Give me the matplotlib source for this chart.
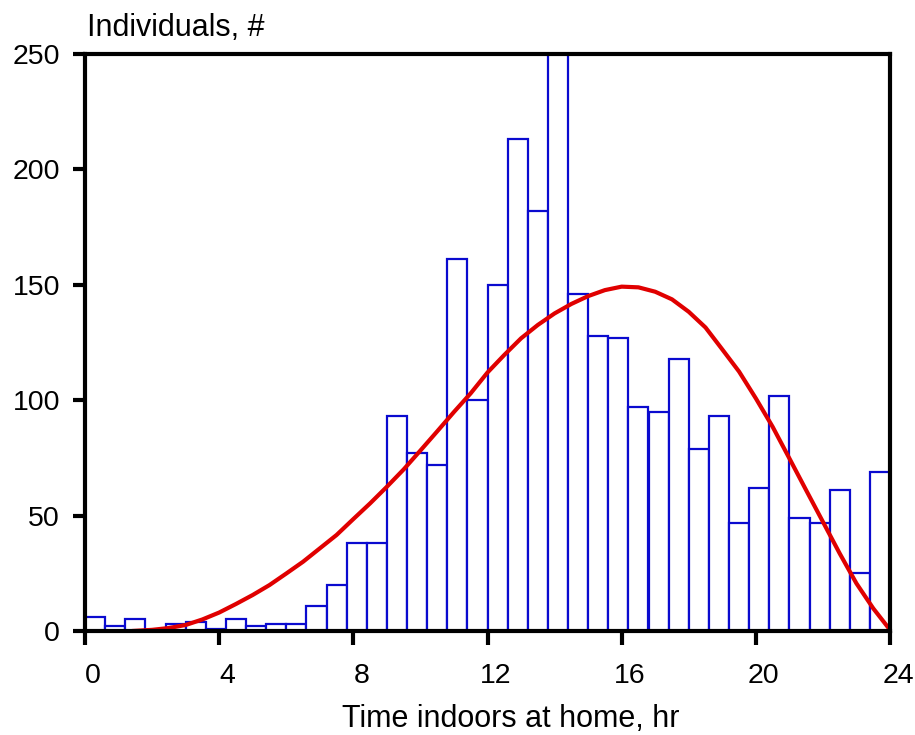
import matplotlib
matplotlib.use("Agg")
import matplotlib.pyplot as plt
import matplotlib.transforms as mtransforms

plt.rcParams['font.family'] = ['Liberation Sans', 'DejaVu Sans']

# Histogram: bin left edges (hours) and counts
bin_width = 0.6
bin_lefts = [round(i * bin_width, 1) for i in range(40)]
counts = [6, 2, 5, 0, 3, 4, 1, 5, 2, 3,
          3, 11, 20, 38, 38, 93, 77, 72, 161, 100,
          150, 213, 182, 250, 146, 128, 127, 97, 95, 118,
          79, 93, 47, 62, 102, 49, 47, 61, 25, 69]

# Fitted curve
curve_x = [1.4, 2.0, 2.5, 3.0, 3.5, 4.0, 4.5, 5.0, 5.5, 6.0, 6.5, 7.0, 7.5,
           8.0, 8.5, 9.0, 9.5, 10.0, 10.5, 11.0, 11.5, 12.0, 12.5, 13.0,
           13.5, 14.0, 14.5, 15.0, 15.5, 16.0, 16.5, 17.0, 17.5, 18.0, 18.5,
           19.0, 19.5, 20.0, 20.5, 21.0, 21.5, 22.0, 22.5, 23.0, 23.5, 24.0]
curve_y = [0.0, 0.5, 1.3, 2.6, 5.0, 8.0, 11.7, 15.6, 19.9, 24.9, 30.0, 35.8,
           41.6, 48.5, 55.3, 62.5, 70.0, 78.2, 86.5, 94.9, 103.0, 112.0,
           119.6, 126.8, 132.6, 137.6, 141.7, 145.1, 147.7, 149.2, 148.9,
           147.0, 143.7, 138.3, 131.5, 122.0, 112.4, 100.8, 88.5, 74.8, 61.0,
           47.3, 33.6, 20.6, 9.8, 0.5]

x_ticks = [0, 4, 8, 12, 16, 20, 24]
y_ticks = [0, 50, 100, 150, 200, 250]

W, H = 915, 735
fig = plt.figure(figsize=(W / 100, H / 100), dpi=100)
ax = fig.add_axes([85 / W, 1 - 631 / H, (890 - 85) / W, (631 - 54) / H])

ax.bar(bin_lefts, counts, width=bin_width, align='edge', facecolor='white',
       edgecolor='#0a0acf', linewidth=1.6, zorder=2)
ax.plot(curve_x, curve_y, color='#e00000', linewidth=3.0, zorder=3,
        solid_capstyle='round', solid_joinstyle='round')

ax.set_xlim(0, 24)
ax.set_ylim(0, 250)
ax.set_xticks(x_ticks)
ax.set_yticks(y_ticks)
ax.set_xticklabels([str(t) for t in x_ticks])
ax.set_yticklabels([str(t) for t in y_ticks])

for s in ax.spines.values():
    s.set_linewidth(3.0)
    s.set_color('black')
    s.set_zorder(4)

ax.tick_params(axis='x', direction='out', length=10, width=3, pad=13, labelsize=20.5)
ax.tick_params(axis='y', direction='out', length=9, width=3, pad=9, labelsize=20.5)

offset = mtransforms.ScaledTranslation(8 / 100, 0, fig.dpi_scale_trans)
for lab in ax.get_xticklabels():
    lab.set_transform(lab.get_transform() + offset)

fig.text(511 / W, 1 - 727 / H, 'Time indoors at home, hr', fontsize=22,
         ha='center', va='baseline')
fig.text(87 / W, 1 - 36 / H, 'Individuals, #', fontsize=22,
         ha='left', va='baseline')

fig.savefig('out.png', dpi=100)
